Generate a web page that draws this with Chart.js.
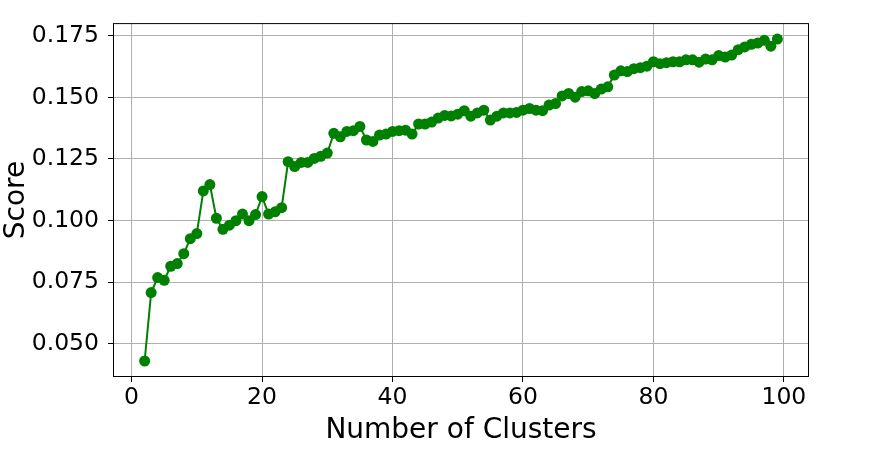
<!DOCTYPE html>
<html>
<head>
<meta charset="utf-8">
<script src="https://cdn.jsdelivr.net/npm/chart.js@4/dist/chart.umd.min.js"></script>
<style>
html,body{margin:0;padding:0;background:#fff;}
#wrap{width:886px;height:461px;}
</style>
</head>
<body>
<div id="wrap"><canvas id="chart" width="886" height="461"></canvas></div>
<script>
// number of clusters 2..99
const clusters=[2,3,4,5,6,7,8,9,10,11,12,13,14,15,16,17,18,19,20,21,22,23,24,25,26,27,28,29,30,
31,32,33,34,35,36,37,38,39,40,41,42,43,44,45,46,47,48,49,50,51,52,53,54,55,56,57,58,59,60,
61,62,63,64,65,66,67,68,69,70,71,72,73,74,75,76,77,78,79,80,81,82,83,84,85,86,87,88,89,90,
91,92,93,94,95,96,97,98,99];
const scores=[0.0429,0.0707,0.0768,0.0757,0.0814,0.0825,0.0865,0.0926,0.0947,0.1120,0.1146,0.1009,0.0964,0.0981,0.0999,0.1026,0.0999,0.1024,0.1097,0.1026,0.1035,0.1052,0.1239,0.1219,0.1236,0.1236,0.1252,0.1261,0.1274,
0.1354,0.1340,0.1362,0.1365,0.1382,0.1327,0.1321,0.1347,0.1351,0.1362,0.1365,0.1367,0.1351,0.1392,0.1392,0.1400,0.1416,0.1427,0.1425,0.1432,0.1446,0.1424,0.1437,0.1448,0.1408,0.1424,0.1437,0.1437,0.1439,0.1448,
0.1455,0.1448,0.1446,0.1469,0.1475,0.1506,0.1516,0.1501,0.1524,0.1527,0.1516,0.1534,0.1543,0.1591,0.1608,0.1605,0.1617,0.1621,0.1627,0.1645,0.1637,0.1641,0.1645,0.1645,0.1653,0.1653,0.1643,0.1656,0.1653,0.1670,
0.1664,0.1672,0.1694,0.1705,0.1716,0.1721,0.1732,0.1708,0.1737];
const xTicks=[0,20,40,60,80,100];
const yTicks=[0.050,0.075,0.100,0.125,0.150,0.175];

const font="'DejaVu Sans', sans-serif";

const frame={
id:"frame",
afterDatasetsDraw(chart){
let a=chart.chartArea,ctx=chart.ctx;
ctx.save();
ctx.strokeStyle="#000";ctx.lineWidth=1;
ctx.strokeRect(a.left+0.5,a.top+0.5,a.right-a.left-1,a.bottom-a.top-1);
ctx.restore();
}
};

new Chart(document.getElementById("chart"),{
type:"line",
data:{datasets:[{
data:clusters.map((c,i)=>({x:c,y:scores[i]})),
borderColor:"green",backgroundColor:"green",
borderWidth:2,pointRadius:5.5,pointHoverRadius:5.5,pointBorderWidth:0,
tension:0
}]},
options:{
responsive:false,animation:false,
layout:{padding:{left:0,top:22,right:77,bottom:0}},
plugins:{legend:{display:false},tooltip:{enabled:false}},
scales:{
x:{type:"linear",min:-2.85,max:103.85,
afterFit(s){s.height=84;},
afterBuildTicks(s){s.ticks=xTicks.map(v=>({value:v}));},
grid:{color:"#b0b0b0",lineWidth:1,tickLength:5,tickColor:"#000"},
border:{display:false},
ticks:{color:"#000",font:{family:font,size:23.5},padding:2,maxRotation:0},
title:{display:true,text:"Number of Clusters",color:"#000",font:{family:font,size:28},padding:{top:0,bottom:13}}
},
y:{min:0.0364,max:0.1802,
afterFit(s){s.width=113;},
afterBuildTicks(s){s.ticks=yTicks.map(v=>({value:v}));},
grid:{color:"#b0b0b0",lineWidth:1,tickLength:5,tickColor:"#000"},
border:{display:false},
ticks:{color:"#000",font:{family:font,size:23.5},padding:9,callback:v=>v.toFixed(3)},
title:{display:true,text:"Score",color:"#000",font:{family:font,size:28},padding:{top:0,bottom:0}}
}
}
},
plugins:[frame]
});
</script>
</body>
</html>
